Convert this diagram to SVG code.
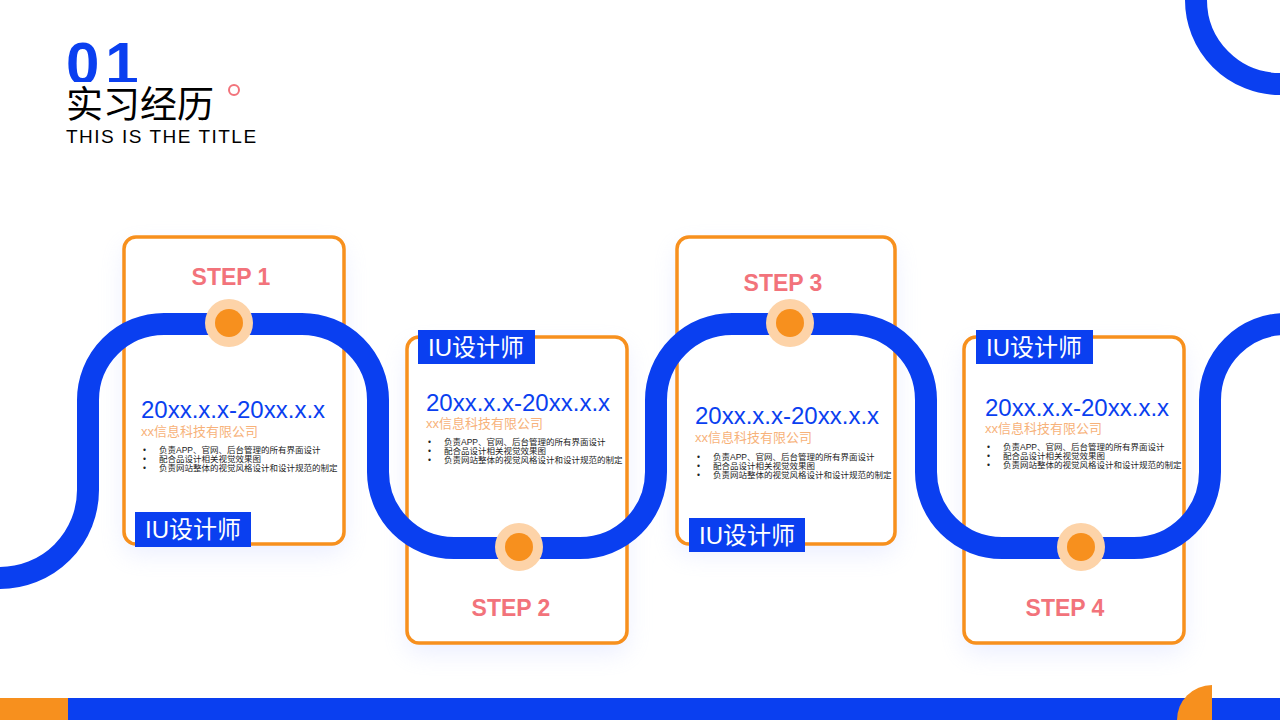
<svg xmlns="http://www.w3.org/2000/svg" width="1280" height="720" viewBox="0 0 1280 720">
<defs>
<style>
.card{fill:#fff;stroke:#f7901e;stroke-width:3.5}
.step{font-family:"Liberation Sans",Arial,sans-serif;font-weight:bold;font-size:23px;fill:#f2737b;text-anchor:middle}
.lbl{fill:#0a3ff0}
.lt{font-family:"Liberation Sans","Noto Sans CJK SC",sans-serif;font-size:24px;fill:#fff}
.date{font-family:"Liberation Sans",Arial,sans-serif;font-size:24px;fill:#0a3ff0}
.org{font-family:"Liberation Sans","Noto Sans CJK SC",sans-serif;font-size:13px;fill:#f7b27a}
.b{font-family:"Liberation Sans","Noto Sans CJK SC",sans-serif;font-size:8.5px;fill:#222}
.d1{fill:#fdd3a8}.d2{fill:#f7901e}
.num{font-family:"Liberation Sans",Arial,sans-serif;font-size:60px;font-weight:bold;fill:#0a3ff0;letter-spacing:6px}
.cn{font-family:"Liberation Sans","Noto Sans CJK SC",sans-serif;font-size:37px;fill:#000}
.en{font-family:"Liberation Sans",Arial,sans-serif;font-size:19px;fill:#000;letter-spacing:1.5px}
</style>
<filter id="sh" x="-30%" y="-30%" width="160%" height="160%"><feGaussianBlur stdDeviation="12"/></filter>
<clipPath id="c01"><rect x="60" y="30" width="120" height="52"/></clipPath>
</defs>
<rect width="1280" height="720" fill="#fff"/>
<circle cx="1280" cy="0" r="84" fill="none" stroke="#0a3ff0" stroke-width="22"/>
<g id="title">
<text class="num" x="66" y="84" clip-path="url(#c01)">01</text>
<text class="cn" x="66" y="118">实习经历</text>
<circle cx="234" cy="90" r="5" fill="none" stroke="#f2737b" stroke-width="2"/>
<text class="en" x="66" y="143">THIS IS THE TITLE</text>
</g>
<g id="shadows" fill="#c8d0ff" opacity="0.35" filter="url(#sh)">
<rect x="124" y="247" width="220" height="307" rx="12"/><rect x="407" y="347" width="220" height="306" rx="12"/>
<rect x="677" y="247" width="218" height="307" rx="12"/><rect x="964" y="347" width="220" height="306" rx="12"/>
</g>
<g id="card1"><rect class="card" x="124" y="237" width="220" height="307" rx="12"/></g>
<g id="card2"><rect class="card" x="407" y="337" width="220" height="306" rx="12"/></g>
<g id="card3"><rect class="card" x="677" y="237" width="218" height="307" rx="12"/></g>
<g id="card4"><rect class="card" x="964" y="337" width="220" height="306" rx="12"/></g>
<g id="connectors" fill="none" stroke="#0a3ff0" stroke-width="22">
<path d="M0,578 A88,88 0 0 0 88,490 L88,400 A76,76 0 0 1 164,324 L302,324 A76,76 0 0 1 378,400 L378,472 A76,76 0 0 0 454,548 L580,548 A76,76 0 0 0 656,472 L656,400 A76,76 0 0 1 732,324 L850,324 A76,76 0 0 1 926,400 L926,472 A76,76 0 0 0 1002,548 L1134,548 A76,76 0 0 0 1210,472 L1210,400 A76,76 0 0 1 1286,324"/>
</g>
<g id="dots">
<circle class="d1" cx="229" cy="323" r="24"/><circle class="d2" cx="229" cy="323" r="14"/>
<circle class="d1" cx="519" cy="547" r="24"/><circle class="d2" cx="519" cy="547" r="14"/>
<circle class="d1" cx="790" cy="323" r="24"/><circle class="d2" cx="790" cy="323" r="14"/>
<circle class="d1" cx="1081" cy="547" r="24"/><circle class="d2" cx="1081" cy="547" r="14"/>
</g>
<g id="text1">
<text class="step" x="231" y="285">STEP 1</text>
<text class="date" x="141" y="418">20xx.x.x-20xx.x.x</text>
<text class="org" x="141" y="436">xx信息科技有限公司</text>
<text class="b" x="143" y="453">•<tspan x="159">负责APP、官网、后台管理的所有界面设计</tspan></text>
<text class="b" x="143" y="462">•<tspan x="159">配合品设计相关视觉效果图</tspan></text>
<text class="b" x="143" y="471">•<tspan x="159">负责网站整体的视觉风格设计和设计规范的制定</tspan></text>
<rect class="lbl" x="135" y="512" width="116" height="35"/><text class="lt" x="193" y="538" text-anchor="middle">IU设计师</text>
</g>
<g id="text2">
<text class="step" x="511" y="616">STEP 2</text>
<text class="date" x="426" y="411">20xx.x.x-20xx.x.x</text>
<text class="org" x="426" y="428">xx信息科技有限公司</text>
<text class="b" x="428" y="445">•<tspan x="444">负责APP、官网、后台管理的所有界面设计</tspan></text>
<text class="b" x="428" y="454">•<tspan x="444">配合品设计相关视觉效果图</tspan></text>
<text class="b" x="428" y="463">•<tspan x="444">负责网站整体的视觉风格设计和设计规范的制定</tspan></text>
<rect class="lbl" x="418" y="330" width="117" height="34"/><text class="lt" x="476" y="356" text-anchor="middle">IU设计师</text>
</g>
<g id="text3">
<text class="step" x="783" y="291">STEP 3</text>
<text class="date" x="695" y="424">20xx.x.x-20xx.x.x</text>
<text class="org" x="695" y="442">xx信息科技有限公司</text>
<text class="b" x="697" y="460">•<tspan x="713">负责APP、官网、后台管理的所有界面设计</tspan></text>
<text class="b" x="697" y="469">•<tspan x="713">配合品设计相关视觉效果图</tspan></text>
<text class="b" x="697" y="478">•<tspan x="713">负责网站整体的视觉风格设计和设计规范的制定</tspan></text>
<rect class="lbl" x="689" y="518" width="116" height="34"/><text class="lt" x="747" y="544" text-anchor="middle">IU设计师</text>
</g>
<g id="text4">
<text class="step" x="1065" y="616">STEP 4</text>
<text class="date" x="985" y="416">20xx.x.x-20xx.x.x</text>
<text class="org" x="985" y="433">xx信息科技有限公司</text>
<text class="b" x="987" y="450">•<tspan x="1003">负责APP、官网、后台管理的所有界面设计</tspan></text>
<text class="b" x="987" y="459">•<tspan x="1003">配合品设计相关视觉效果图</tspan></text>
<text class="b" x="987" y="468">•<tspan x="1003">负责网站整体的视觉风格设计和设计规范的制定</tspan></text>
<rect class="lbl" x="976" y="330" width="117" height="34"/><text class="lt" x="1034" y="356" text-anchor="middle">IU设计师</text>
</g>
<rect x="0" y="698" width="68" height="22" fill="#f7901e"/>
<rect x="68" y="698" width="1212" height="22" fill="#0a3ff0"/>
<path d="M1177,720 A35,35 0 0 1 1212,685 L1212,720 Z" fill="#f7901e"/>
</svg>
